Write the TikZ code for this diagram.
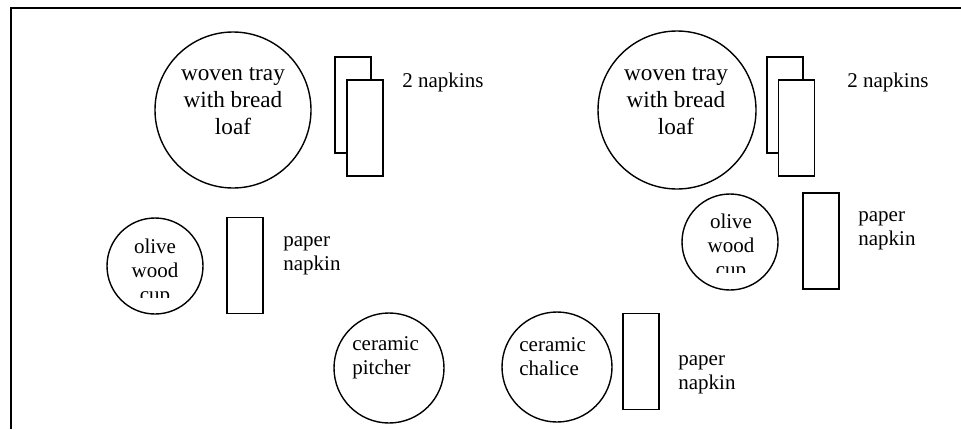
\documentclass[tikz,border=0pt]{standalone}
\usepackage{fontspec}
\setmainfont{Liberation Serif}

\begin{document}
\begin{tikzpicture}[x=0.5pt,y=-0.5pt,
	dish/.style={draw, circle, line width=0.7pt, inner sep=0pt},
	napkin/.style={draw, fill=white, rectangle, line width=0.7pt, inner sep=0pt,
		minimum width=18pt, minimum height=48pt},
	lbl/.style={font=\fontsize{10.5}{12}\selectfont, align=left, inner sep=0pt, anchor=west},
	traytext/.style={font=\fontsize{11.6}{13.5}\selectfont, align=center, inner sep=0pt},
	cuptext/.style={font=\fontsize{10.5}{12}\selectfont, align=center, inner sep=0pt}
	]
	\useasboundingbox (0,0) rectangle (961,429);
	% frame
	\coordinate (frameA) at (11,429);
	\coordinate (frameB) at (11,8);
	\coordinate (frameC) at (961,8);
	\draw[line width=0.8pt] (frameA) -- (frameB) -- (frameC);

	% left table
	\node[dish, minimum size=78pt] (tray1) at (233,110) {};
	\node[traytext] (tray1txt) at (233,101) {woven tray\\with bread\\loaf};
	\node[napkin] (nback1) at (353,105) {};
	\node[napkin] (nfront1) at (365,128) {};
	\node[lbl] (nlbl1) at (402,82) {2 napkins};

	\node[dish, minimum size=48pt] (cup1) at (155,266) {};
	\begin{scope}
		\clip (100,215) rectangle (210,297);
		\node[cuptext] (cup1txt) at (155,272) {olive\\wood\\cup};
	\end{scope}
	\node[napkin] (pnap1) at (245,265.5) {};
	\node[lbl] (plbl1) at (283,256) {paper\\napkin};

	\node[dish, minimum size=55pt] (pitcher) at (389,368) {};
	\node[lbl] (pitchertxt) at (352,358) {ceramic\\pitcher};

	% right table
	\node[dish, minimum size=79pt] (tray2) at (677,110) {};
	\node[traytext] (tray2txt) at (676,101) {woven tray\\with bread\\loaf};
	\node[napkin] (nback2) at (785,105) {};
	\node[napkin] (nfront2) at (796.5,128) {};
	\node[lbl] (nlbl2) at (847,82) {2 napkins};

	\node[dish, minimum size=48pt] (cup2) at (730,242) {};
	\begin{scope}
		\clip (675,190) rectangle (785,272);
		\node[cuptext] (cup2txt) at (731,247) {olive\\wood\\cup};
	\end{scope}
	\node[napkin] (pnap2) at (821,241) {};
	\node[lbl] (plbl2) at (858,231) {paper\\napkin};

	\node[dish, minimum size=55pt] (chalice) at (557,367) {};
	\node[lbl] (chalicetxt) at (519,357) {ceramic\\chalice};
	\node[napkin] (pnap3) at (641,361.5) {};
	\node[lbl] (plbl3) at (678,375) {paper\\napkin};
\end{tikzpicture}
\end{document}
